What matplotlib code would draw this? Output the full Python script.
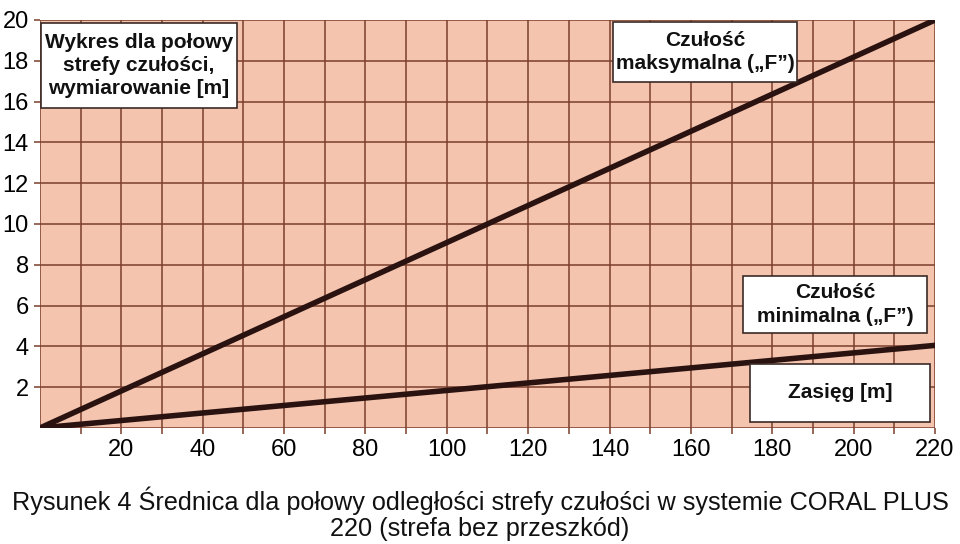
import matplotlib
matplotlib.use("Agg")
import matplotlib.pyplot as plt

distance = [0, 220]
max_sensitivity = [0, 20.0]
min_sensitivity = [0, 4.05]
x_ticks = [20, 40, 60, 80, 100, 120, 140, 160, 180, 200, 220]
y_ticks = [2, 4, 6, 8, 10, 12, 14, 16, 18, 20]
box_title = "Wykres dla połowy\nstrefy czułości,\nwymiarowanie [m]"
label_max = "Czułość\nmaksymalna („F”)"
label_min = "Czułość\nminimalna („F”)"
label_x = "Zasięg [m]"
caption = "Rysunek 4 Średnica dla połowy odległości strefy czułości w systemie CORAL PLUS\n220 (strefa bez przeszkód)"

plt.rcParams['font.family'] = ["Liberation Sans", "DejaVu Sans"]

bg = "#f4c4ae"
grid_c = "#7a3e2c"
line_c = "#2a1210"

fig = plt.figure(figsize=(9.6, 5.44), dpi=100)
ax = fig.add_axes([40/960, 1 - 428/544, 895/960, 408/544])
ax.set_facecolor(bg)
ax.set_xlim(0, 220)
ax.set_ylim(0, 20)

for xv in range(0, 221, 10):
    ax.axvline(xv, color=grid_c, lw=1.1, zorder=1)
for yv in range(0, 21, 2):
    ax.axhline(yv, color=grid_c, lw=1.1, zorder=1)

ax.plot(distance, max_sensitivity, color=line_c, lw=4, solid_capstyle='round', zorder=3)
ax.plot(distance, min_sensitivity, color=line_c, lw=4, solid_capstyle='round', zorder=3)

ax.set_xticks(x_ticks)
ax.set_xticklabels([str(v) for v in x_ticks])
ax.set_yticks(y_ticks)
ax.set_yticklabels([str(v) for v in y_ticks])
ax.tick_params(axis='both', labelsize=17, length=4, color=grid_c, width=1.1, pad=4)
ax.set_xticks(list(range(10, 221, 20)), minor=True)
ax.tick_params(axis='x', which='minor', length=4, color=grid_c, width=1.1)
for s in ax.spines.values():
    s.set_visible(False)

def box(x0, y0, x1, y1, text, fs):
    fx0, fx1 = x0/960, x1/960
    fy0, fy1 = 1 - y1/544, 1 - y0/544
    r = plt.Rectangle((fx0, fy0), fx1 - fx0, fy1 - fy0, transform=fig.transFigure,
                      facecolor="white", edgecolor="#3a2a26", lw=1.2, zorder=5)
    fig.patches.append(r)
    fig.text((fx0 + fx1)/2, (fy0 + fy1)/2, text, ha='center', va='center',
             fontsize=fs, fontweight='bold', color="#111111", linespacing=1.3, zorder=6)

box(41, 23, 237, 108, box_title, 15)
box(613, 22, 797, 82, label_max, 15)
box(743, 276, 927, 333, label_min, 15)
box(750, 364, 930, 422, label_x, 15)

fig.text(0.5, 1 - 514/544, caption, ha='center', va='center', fontsize=18.2,
         color="#111111", linespacing=1.12)

fig.savefig("out.png", dpi=100, facecolor="white")
